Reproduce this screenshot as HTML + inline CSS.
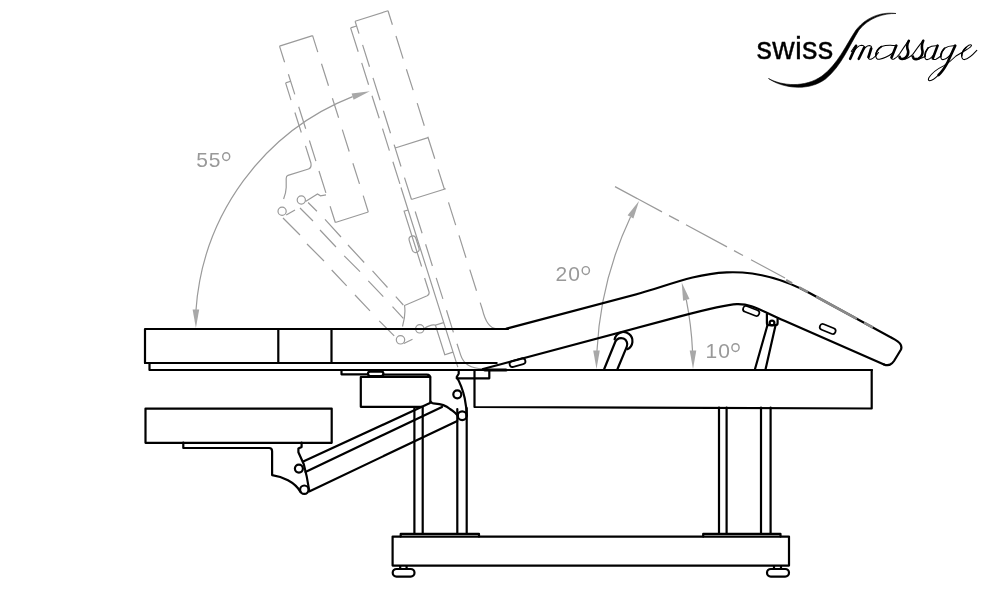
<!DOCTYPE html>
<html><head><meta charset="utf-8">
<style>
html,body{margin:0;padding:0;background:#fff;width:1000px;height:600px;overflow:hidden}
svg{display:block;will-change:transform}
.k{fill:none;stroke:#000;stroke-width:2.2;stroke-linejoin:round;stroke-linecap:round}
.g{fill:none;stroke:#9a9a9a;stroke-width:1.2;stroke-linecap:butt}
.gd{fill:none;stroke:#9a9a9a;stroke-width:1.2;stroke-dasharray:22 10}
.t{font-family:"Liberation Sans",sans-serif;fill:#999;font-size:21px;letter-spacing:1px}
.deg{fill:none;stroke:#999;stroke-width:1.45}
</style></head>
<body>
<svg width="1000" height="600" viewBox="0 0 1000 600">
<!-- ===== LOGO ===== -->
<g id="logo">
<text x="756.6" y="59.2" style="font-family:'Liberation Sans',sans-serif;font-size:31px;fill:#000;letter-spacing:0.25px;stroke:#000;stroke-width:0.35">swiss</text>
<path d="M768.5,78.5 C782,86 805,88 822,76 C838,64 846,45 856,30 C868,15 884,12 896,13.5 C884,13.2 869,17.5 859,30 C849.5,45 841.5,66 825.5,79 C808,92 782,88 768.5,78.5 Z" fill="#000" stroke="#000" stroke-width="0.6"/>
<path fill="none" stroke="#000" stroke-width="1.05" stroke-linecap="round" d="M851.3,51.5 Q853.5,47 856,45.8 M852.5,53.5 Q857,45.5 861.5,45.2 Q864.5,45.3 864.2,47.5 M861,53 Q865.5,45.5 869.5,45.4 Q872,45.8 871.2,48.5 M868.5,57 Q868,59.6 871,59.2 Q874.5,58 878.5,52.5 M896.3,45.8 Q888,44.3 881.5,46.5 Q876,50 875.8,55.5 Q876,59.8 879.5,59.2 Q887,58 893.6,52.2 M891.5,57.5 Q891,59.8 894,59 Q897,57.5 899.5,54 Q904,47 908.8,40.4 M903.2,59.2 Q907,59.5 912.8,54.4 Q918,47 923.2,40.4 M914,59.2 Q919,60 925.6,56 M937.6,45.8 Q932,45.3 928,48 Q924.5,52.5 924.8,56.8 Q925.3,60 927.5,59.6 Q931.5,58.5 935.2,52.4 M932.8,58.4 Q933,60 936,59.2 Q938.5,58 940.8,56 M955.2,45.8 Q949,45.3 944.5,48.3 Q940.5,52.5 940.8,56.8 Q941,60 943.5,59.6 Q948,58.5 952.3,52.4 M938.4,75.2 Q933,80.5 929.8,80.8 Q927.5,80.5 929,77.6 Q933,71 944,65.6 Q950,62 956,56 Q962,52.5 966,50 Q972,46.5 971.5,45.2 Q970,44 966.5,47 Q961.5,51.5 961.6,56 Q962,59.8 964.5,59.6 Q969,59 976.8,50.4"/>
<path fill="none" stroke="#000" stroke-width="2.6" stroke-linecap="round" d="M856,45.8 L850.2,58.8 M864.2,47.5 L858.8,58.8 M871.2,48.5 L868.5,57 M896.3,45.6 L891.5,57.5 M908.8,40.8 Q906,45.5 908,50.5 Q909,55 905,58.2 Q902,59.8 900,58.3 M923.2,40.8 Q921,45.5 922.5,51 Q923,56 918.5,58.6 Q915.5,59.8 913.5,58.2 M937.6,45.6 L932.8,58.4 M955.2,45.6 L947.2,63.2 Q943,71 938.6,75"/>
<path fill="none" stroke="#000" stroke-width="1.6" stroke-linecap="round" d="M966,47.5 Q961.8,51.5 961.8,56 M881.5,46.5 Q876,50 875.9,55.5 M928,48 Q924.5,52.5 924.9,56.8 M944.5,48.3 Q940.5,52.5 940.9,56.8"/>
<circle cx="899.6" cy="57" r="1.4" fill="#000"/><circle cx="912.8" cy="56.6" r="1.4" fill="#000"/>
</g>

<!-- ===== GREY ANNOTATIONS ===== -->
<g id="backrest"><path class="g" d="M388.0,10.8 L355.1,21.2 M356.6,26.0 L350.6,27.9 M388.0,10.8 L392.4,24.8 M396.0,36.0 L403.1,58.6 M406.4,69.2 L413.1,90.1 M417.2,103.1 L424.3,125.7 M427.8,136.8 L434.8,158.8 M438.1,169.4 L444.4,189.3 M448.5,202.4 L455.7,225.1 M459.0,235.4 L466.0,257.8 M469.8,269.6 L476.5,290.7 M480.2,302.6 L482.3,309.2 Q487,329 497,328.8 M355.1,21.2 L359.0,33.6 M362.6,44.9 L369.5,66.8 M373.0,77.9 L380.1,100.2 M383.4,110.7 L390.5,133.2 M394.1,144.6 L401.0,166.5 M404.5,177.6 L411.4,199.2 M415.2,211.5 L422.1,233.2 M425.6,244.2 L432.4,266.0 M436.2,277.9 L442.9,298.9 M446.5,310.3 L453.4,332.4 M457.0,343.8 L460.6,354.9 Q464.9,368.7 483,368.7 M350.6,27.9 L358.2,51.8 M361.7,62.9 L368.6,84.7 M372.0,95.7 L379.2,118.3 M382.5,128.6 L389.4,150.6 M392.9,161.7 L399.9,183.9 M401.0,187.5 L457.8,367.1 M428.1,137.6 L395.2,148.0 M394.3,145.1 L395.2,148.0 M445.8,188.7 L411.4,199.5 M408.2,210.0 L404.1,211.2 L421.6,266.5 M443.5,322.6 L435.4,325.1 L444.8,354.7 L452.9,352.1 M435.4,325.1 Q431,324 424.2,328.5 M424.6,278.0 L428.9,291.5 Q429.8,294.4 427.2,295.7 L404.5,305.5 Q406,314 402.5,326.5 M403.8,343.5 L412.5,339.2 M312.6,35.6 L279.5,46.1 M368.3,212.0 L335.3,222.5 M312.6,35.6 L317.8,52.1 M321.5,63.8 L328.5,85.8 M332.4,98.2 L338.6,117.8 M342.3,129.6 L349.2,151.5 M352.9,163.3 L359.5,183.9 M363.2,195.6 L368.3,212.0 M279.5,46.1 L284.6,62.3 M288.4,74.2 L294.8,94.4 M298.7,106.8 L305.7,128.8 M309.4,140.5 L315.9,161.1 M319.0,171.0 L325.9,192.9 M330.1,206.2 L335.3,222.5 M290.7,81.3 L285.6,82.9 M285.6,82.9 L291.0,100.1 M294.9,112.5 L301.3,132.5 M305.5,145.9 L310.9,163.0 Q311.8,168.2 308.5,169 L288,175.4 Q286.2,176 286.2,178.5 L286.2,187.5 Q286,193 283.6,199 M286.2,215 L295,210 M305.5,201.6 L317.5,194 L320.5,195.8 L326,194.8 M283.0,218.0 L300.0,235.0 M307.0,244.0 L324.0,261.0 M331.7,270.0 L346.7,285.8 M355.0,295.0 L370.0,310.8 M379.2,320.8 L394.2,335.8 M300.0,208.0 L313.0,221.0 M320.0,230.0 L336.0,247.0 M344.2,255.8 L360.0,271.7 M368.3,280.8 L383.3,296.7 M392.5,306.7 L403.3,318.3 M308.1,202.5 L316.9,211.2 M325.0,219.4 L341.0,237.0 M348.0,245.0 L364.2,262.5 M372.5,270.8 L387.5,287.5 M395.8,296.7 L403.3,305.0"/><circle class="g" cx="282.1" cy="211.3" r="4.1"/><circle class="g" cx="301.3" cy="200" r="4.1"/><circle class="g" cx="400.5" cy="339.8" r="4.2"/><circle class="g" cx="419.8" cy="328.8" r="4.2"/><rect class="g" x="410.6" y="235.8" width="7" height="17" rx="3.5" transform="rotate(-17.5 414.1 244.3)"/></g>
<g id="annot">
<!-- 55 arc -->
<path class="g" d="M196,310 A248,248 0 0 1 352.6,96.6"/>
<path d="M195.9,328 L192.6,309.5 L199.2,309.5 Z" fill="#a8a8a8"/>
<path d="M369.8,91.3 L351.6,93.45 L353.6,99.75 Z" fill="#a8a8a8"/>
<text class="t" x="196.2" y="166.7">55</text><ellipse class="deg" cx="226.2" cy="156.6" rx="3.5" ry="3.9"/>
<!-- 20 deg -->
<path class="g" d="M596.95,351 A357.5,357.5 0 0 1 630.5,216.9"/>
<path d="M596.5,369 L593.2,350.5 L599.8,350.5 Z" fill="#a8a8a8"/>
<path d="M639,201 L633.4,218.5 L627.6,215.3 Z" fill="#a8a8a8"/>
<text class="t" x="555.5" y="280.7">20</text><ellipse class="deg" cx="585.8" cy="270.5" rx="3.6" ry="3.9"/>
<path class="g" d="M615,186.6 L662,211.9 M669,215.6 L679,220.9 M686,224.8 L727,246.9 M734,250.6 L743,255.5 M751,259.7 L785,278"/>
<!-- 10 deg -->
<path class="g" d="M692.52,351 A339,339 0 0 0 686.3,299.9"/>
<path d="M681.7,282.5 L689.5,299.06 L683.1,300.74 Z" fill="#a8a8a8"/>
<path d="M693,369 L689.7,350.5 L696.3,350.5 Z" fill="#a8a8a8"/>
<text class="t" x="705.5" y="357.7">10</text><ellipse class="deg" cx="735.5" cy="347.6" rx="3.6" ry="3.9"/>
</g>

<!-- ===== BLACK DRAWING ===== -->
<g id="bed" class="k">
<!-- top cushion flat -->
<path d="M145,363 L145,329 L508,329"/>
<path d="M145,363 L496.7,363"/>
<path d="M278.3,329 L278.3,363 M331.5,329 L331.5,363"/>
<!-- under strip -->
<path d="M149.5,363 L149.5,370 L872,370"/>
<!-- leg rest top -->
<path d="M506.6,328.6 L640,293.3 C682.5,282.1 734.5,252.1 810,293.3 L895,339.6 Q903,344 901,349.5 L894,361 Q890,367 884,364.5"/>
<!-- leg rest bottom -->
<path d="M483,369 L680,316.4 C751.5,297.4 740.1,301.5 785,321.1 L884,364.5"/>
<path d="M485,370 L506,370" style="stroke-width:3.2"/>
<!-- slots on leg rest -->
<rect x="509.4" y="359.6" width="16.2" height="6" rx="3" transform="rotate(-15 517.5 362.6)" style="stroke-width:1.8"/>
<rect x="742.7" y="308" width="17" height="6" rx="3" transform="rotate(21 751.2 311)" style="stroke-width:1.7"/>
<rect x="819.4" y="326" width="16.6" height="6" rx="3" transform="rotate(22 827.7 329)" style="stroke-width:1.7"/>
<!-- struts -->
<path d="M604.2,369 L615.4,341.5 A6.25,6.25 0 0 1 626.8,346.6 L617.5,369"/>
<path d="M614.6,339.5 A9,9 0 1 1 627.3,349.2"/>
<path d="M755,369 L767.5,325 M765.6,369 L775.6,325"/>
<path d="M766.9,314.2 L766.9,323 Q766.9,325.2 769,325.2 L775.5,325.2 Q777.6,325.2 777.6,323 L777.6,318.8"/>
<circle cx="772" cy="323" r="2.4"/>

<!-- thin plate & capsule under strip -->
<path d="M341.5,370 L341.5,374.3 L367.4,374.3"/>
<rect x="368" y="371.6" width="15.4" height="4.4" rx="2.2"/>
<path d="M383.4,374.6 L426.8,374.6 Q430.3,374.6 430.3,378 L430.3,401.7"/>
<!-- box -->
<path d="M430.3,377 L360.8,377 L360.8,406.8 L422,406.8"/>
<!-- hinge bracket -->
<path d="M430.7,401.7 Q431.5,403.7 435.3,403.7 Q444,404 450,409 Q456,413 458,416"/>
<path d="M458.7,370 L458.7,373.7 L456.7,377 Q462,386 464.7,398.3 Q466.7,408 466.7,416"/>
<circle cx="457.3" cy="394.3" r="4"/>
<circle cx="462.2" cy="415.7" r="4.4"/>
<!-- right small rect -->
<path d="M456.7,378.3 L489.3,378.3 L489.3,370"/>
<path d="M474.5,370 L474.5,407 L871.7,408.5 L871.7,370"/>
<!-- legs -->
<path d="M414.4,407 L414.4,534 M422.7,407 L422.7,534 M457.3,409 L457.3,534 M466.7,408 L466.7,534"/>
<path d="M719,407.5 L719,534 M726.6,407.5 L726.6,534 M761,407.5 L761,534 M770.6,407.5 L770.6,534"/>
<!-- plates -->
<path d="M400.7,536.6 L400.7,533.9 L479,533.9 L479,536.6"/>
<path d="M703.2,536.6 L703.2,533.9 L780.5,533.9 L780.5,536.6"/>
<!-- base bottom -->
<rect x="392.6" y="536.6" width="396.4" height="29"/>
<!-- feet -->
<path d="M400.2,566 L400.2,569 M406.6,566 L406.6,569 M774,566 L774,569 M781,566 L781,569"/>
<rect x="392.7" y="569" width="21.8" height="7.6" rx="3.8"/>
<rect x="767" y="569" width="22" height="7.6" rx="3.8"/>

<!-- lower cushion -->
<rect x="145.5" y="408.6" width="186.2" height="34.2"/>
<!-- bracket below lower cushion -->
<path d="M183.3,442.6 L183.3,448 L269.1,448 Q272.1,448 272.1,451.3 L272.1,475.1 C282,476.5 295,482 300.5,492"/>
<path d="M301.6,442.6 L301.6,446.9 L298.4,448.5 L298.4,452.3 L303.8,464.3 Q307,476 309.2,490.3"/>
<circle cx="298.9" cy="468.6" r="4"/>
<circle cx="304.3" cy="489.7" r="4.2"/>
<!-- arms -->
<path d="M303.2,461.6 L430,403 M305.4,471.9 L442,407 M309.2,491.4 L457.3,421"/>
</g>
<path d="M786.0,280.2 L792.0,283.4 M799.1,287.3 L807.9,292.1 M816.0,296.5 L856.9,318.8 M864.0,322.7 L872.9,327.5" fill="none" stroke="#8a8a8a" stroke-width="2.6"/>
</svg>
</body></html>
